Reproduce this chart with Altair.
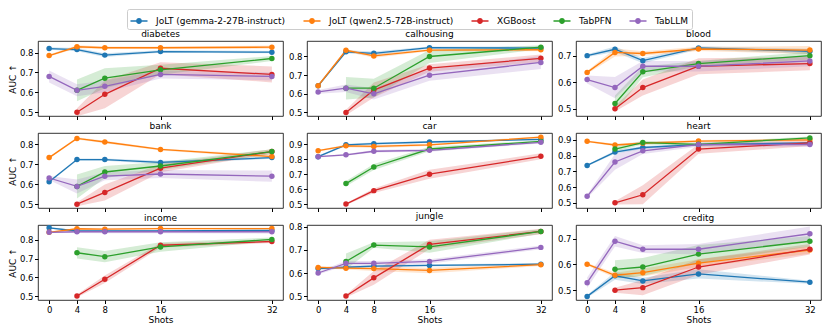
import altair as alt
import pandas as pd

SHOTS = [0, 4, 8, 16, 32]
METHODS = ["JoLT (gemma-2-27B-instruct)", "JoLT (qwen2.5-72B-instruct)", "XGBoost", "TabPFN", "TabLLM"]
COLORS = ["#1f77b4", "#ff7f0e", "#d62728", "#2ca02c", "#9467bd"]
DATASETS = ["diabetes", "calhousing", "blood", "bank", "car", "heart", "income", "jungle", "creditg"]
N = None

# mean AUC per method (rows follow METHODS), columns follow SHOTS
diabetes_auc = [[0.82, 0.815, 0.787, 0.805, 0.802], [0.785, 0.829, 0.824, 0.824, 0.827],
                [N, 0.50, 0.59, 0.721, 0.69], [N, 0.61, 0.671, 0.713, 0.77], [0.68, 0.61, 0.63, 0.69, 0.68]]
diabetes_err = [[0.006, 0.008, 0.01, 0.006, 0.006], [0.005, 0.008, 0.006, 0.006, 0.008],
                [N, 0.02, 0.07, 0.03, 0.04], [N, 0.055, 0.05, 0.025, 0.012], [0.03, 0.03, 0.03, 0.02, 0.02]]

calhousing_auc = [[0.643, 0.825, 0.817, 0.847, 0.845], [0.643, 0.833, 0.803, 0.834, 0.836],
                  [N, 0.50, 0.62, 0.738, 0.79], [N, 0.63, 0.63, 0.80, 0.85], [0.61, 0.63, 0.60, 0.70, 0.768]]
calhousing_err = [[0.005, 0.008, 0.01, 0.006, 0.008], [0.005, 0.006, 0.01, 0.006, 0.008],
                  [N, 0.015, 0.04, 0.02, 0.02], [N, 0.06, 0.05, 0.035, 0.01], [0.01, 0.02, 0.03, 0.03, 0.035]]

blood_auc = [[0.70, 0.724, 0.681, 0.729, 0.716], [0.637, 0.712, 0.708, 0.725, 0.721],
             [N, 0.50, 0.58, 0.66, 0.67], [N, 0.52, 0.639, 0.67, 0.70], [0.61, 0.58, 0.66, 0.66, 0.68]]
blood_err = [[0.005, 0.01, 0.01, 0.006, 0.01], [0.005, 0.015, 0.008, 0.008, 0.015],
             [N, 0.01, 0.03, 0.03, 0.025], [N, 0.03, 0.02, 0.01, 0.015], [0.015, 0.04, 0.02, 0.02, 0.02]]

bank_auc = [[0.612, 0.723, 0.723, 0.709, 0.733], [0.733, 0.829, 0.811, 0.774, 0.738],
            [N, 0.50, 0.559, 0.68, 0.763], [N, 0.589, 0.661, 0.691, 0.763], [0.631, 0.589, 0.64, 0.651, 0.64]]
bank_err = [[0.005, 0.006, 0.006, 0.008, 0.006], [0.004, 0.006, 0.006, 0.005, 0.008],
            [N, 0.01, 0.04, 0.02, 0.012], [N, 0.06, 0.03, 0.02, 0.012], [0.01, 0.035, 0.02, 0.02, 0.028]]

car_auc = [[0.817, 0.896, 0.904, 0.915, 0.932], [0.857, 0.889, 0.885, 0.896, 0.947],
           [N, 0.50, 0.59, 0.70, 0.819], [N, 0.637, 0.748, 0.868, 0.919], [0.817, 0.829, 0.853, 0.859, 0.913]]
car_err = [[0.006, 0.008, 0.008, 0.006, 0.006], [0.005, 0.01, 0.01, 0.008, 0.006],
           [N, 0.006, 0.015, 0.03, 0.02], [N, 0.018, 0.02, 0.015, 0.008], [0.005, 0.006, 0.008, 0.01, 0.008]]

heart_auc = [[0.737, 0.822, 0.851, 0.869, 0.88], [0.89, 0.867, 0.878, 0.892, 0.90],
             [N, 0.50, 0.551, 0.841, 0.88], [N, 0.841, 0.882, 0.871, 0.912], [0.541, 0.759, 0.83, 0.87, 0.87]]
heart_err = [[0.005, 0.01, 0.01, 0.008, 0.008], [0.005, 0.008, 0.008, 0.006, 0.008],
             [N, 0.01, 0.06, 0.03, 0.02], [N, 0.015, 0.012, 0.01, 0.008], [0.01, 0.05, 0.02, 0.015, 0.015]]

income_auc = [[0.864, 0.847, 0.847, 0.848, 0.85], [0.84, 0.859, 0.857, 0.86, 0.86],
              [N, 0.50, 0.59, 0.771, 0.791], [N, 0.731, 0.71, 0.762, 0.802], [0.84, 0.843, 0.843, 0.843, 0.843]]
income_err = [[0.004, 0.004, 0.004, 0.004, 0.004], [0.004, 0.004, 0.004, 0.004, 0.004],
              [N, 0.008, 0.02, 0.012, 0.008], [N, 0.03, 0.03, 0.025, 0.01], [0.004, 0.006, 0.008, 0.008, 0.01]]

jungle_auc = [[0.619, 0.625, 0.63, 0.633, 0.638], [0.624, 0.621, 0.619, 0.611, 0.636],
              [N, 0.50, 0.579, 0.724, 0.78], [N, 0.65, 0.721, 0.713, 0.78], [0.60, 0.642, 0.642, 0.65, 0.711]]
jungle_err = [[0.005, 0.005, 0.005, 0.005, 0.005], [0.005, 0.006, 0.01, 0.012, 0.006],
              [N, 0.006, 0.03, 0.02, 0.012], [N, 0.035, 0.012, 0.025, 0.01], [0.006, 0.01, 0.01, 0.01, 0.008]]

creditg_auc = [[0.476, 0.556, 0.536, 0.563, 0.531], [0.601, 0.558, 0.568, 0.605, 0.656],
               [N, 0.50, 0.51, 0.59, 0.659], [N, 0.581, 0.59, 0.64, 0.69], [0.529, 0.69, 0.659, 0.659, 0.719]]
creditg_err = [[0.005, 0.015, 0.012, 0.018, 0.006], [0.005, 0.01, 0.015, 0.015, 0.015],
               [N, 0.01, 0.03, 0.03, 0.02], [N, 0.035, 0.035, 0.035, 0.02], [0.02, 0.02, 0.015, 0.02, 0.028]]

Y_DOMAINS = [[0.481, 0.858], [0.481, 0.883], [0.473, 0.755], [0.481, 0.856], [0.474, 0.975],
             [0.467, 0.943], [0.479, 0.879], [0.483, 0.808], [0.462, 0.753]]
Y_TICKS = [[0.5, 0.6, 0.7, 0.8], [0.5, 0.6, 0.7, 0.8], [0.5, 0.6, 0.7], [0.5, 0.6, 0.7, 0.8],
           [0.5, 0.6, 0.7, 0.8, 0.9], [0.5, 0.6, 0.7, 0.8, 0.9], [0.5, 0.6, 0.7, 0.8],
           [0.5, 0.6, 0.7, 0.8], [0.5, 0.6, 0.7]]

AUC = [diabetes_auc, calhousing_auc, blood_auc, bank_auc, car_auc, heart_auc, income_auc, jungle_auc, creditg_auc]
ERR = [diabetes_err, calhousing_err, blood_err, bank_err, car_err, heart_err, income_err, jungle_err, creditg_err]

FONT = "DejaVu Sans"
W, H = 245, 75
LEGEND_PATH = ("M-1,-0.09L1,-0.09L1,0.09L-1,0.09Z "
               "M0.34,0A0.34,0.34,0,1,1,-0.34,0A0.34,0.34,0,1,1,0.34,0Z")

color_scale = alt.Scale(domain=METHODS, range=COLORS)


def panel(i):
    name = DATASETS[i]
    row, col = divmod(i, 3)
    recs = []
    for m, c, vals, errs in zip(METHODS, COLORS, AUC[i], ERR[i]):
        for s, v, e in zip(SHOTS, vals, errs):
            if v is None:
                continue
            recs.append({"shots": s, "method": m, "clr": c, "auc": v, "lo": v - e, "hi": v + e})
    df = pd.DataFrame(recs)

    if row == 2:
        xaxis = alt.Axis(values=SHOTS, title="Shots", labelAngle=0)
    else:
        xaxis = alt.Axis(values=SHOTS, labels=False, title=None)
    if col == 0:
        yaxis = alt.Axis(values=Y_TICKS[i], title="AUC ↑", format=".1f")
    else:
        yaxis = alt.Axis(values=Y_TICKS[i], title=None, format=".1f")

    x = alt.X("shots:Q", scale=alt.Scale(domain=[-1.6, 33.6], nice=False, zero=False), axis=xaxis)
    yscale = alt.Scale(domain=Y_DOMAINS[i], nice=False, zero=False)

    base = alt.Chart(df)
    band = base.mark_area(fillOpacity=0.2).encode(
        x=x, y=alt.Y("lo:Q", scale=yscale, axis=yaxis), y2=alt.Y2("hi:Q"),
        fill=alt.Fill("clr:N", scale=None),
        detail="method:N",
    )
    line = base.mark_line(strokeWidth=1.3).encode(
        x=x, y=alt.Y("auc:Q", scale=yscale, axis=yaxis),
        stroke=alt.Stroke("clr:N", scale=None),
        detail="method:N",
    )
    pts = base.mark_point(filled=True, size=30, opacity=1).encode(
        x=x, y=alt.Y("auc:Q", scale=yscale, axis=yaxis),
        color=alt.Color(
            "method:N", scale=color_scale,
            legend=alt.Legend(
                title=None, orient="none", legendX=89, legendY=-32, direction="horizontal",
                columns=5, symbolType=LEGEND_PATH, symbolSize=290, symbolOpacity=1,
                symbolStrokeWidth=0, labelFont=FONT, labelFontSize=9, labelColor="black",
                columnPadding=17, labelOffset=8, padding=3, strokeColor="#cccccc",
                fillColor="white", cornerRadius=2, labelLimit=300,
            ),
        ),
    )
    return alt.layer(band, line, pts).properties(
        width=W, height=H,
        title=alt.TitleParams(name, font=FONT, fontSize=9, fontWeight="normal",
                              color="black", offset=2, anchor="middle"),
    )


chart = alt.concat(*[panel(i) for i in range(9)], columns=3, spacing={"row": 17, "column": 24},
                   bounds="flush").resolve_scale(y="independent", x="independent").properties(
    padding={"left": 0, "top": 0, "right": 0, "bottom": 0}
).configure_view(stroke="black", strokeWidth=0.8).configure_axis(
    labelFont=FONT, labelFontSize=8.5, labelColor="black", titleFont=FONT, titleFontSize=9,
    titleFontWeight="normal", titleColor="black", tickColor="black", tickSize=3.5,
    labelPadding=1.5, titlePadding=2, domain=False, grid=False,
)

chart.save("out.html", embed_options={"renderer": "svg", "actions": False})
